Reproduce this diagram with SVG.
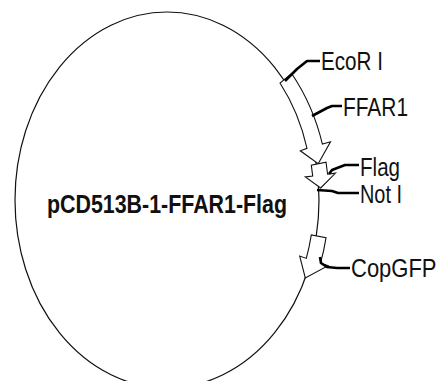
<svg xmlns="http://www.w3.org/2000/svg" width="438" height="381" viewBox="0 0 438 381">
<style>
.bb{fill:#ffffff;stroke:none}
.bk{fill:none;stroke:#111;stroke-width:1.2}
.ft{fill:#fff;stroke:#111;stroke-width:1.1;stroke-linejoin:miter}
.ln{fill:none;stroke:#000;stroke-width:2.6;stroke-linejoin:round;stroke-linecap:butt}
.lb{font-family:"Liberation Sans",Arial,sans-serif;font-size:25px;fill:#111}
.tt{font-family:"Liberation Sans",Arial,sans-serif;font-size:25px;font-weight:bold;fill:#111}
</style>
<rect class="bb" x="0" y="0" width="438" height="381"/>
<g id="backbone">
<ellipse class="bk" cx="167" cy="200" rx="152" ry="188"/>
</g>
<g id="FFAR1">
<path class="ft" d="M280,83 A147,183 0 0 1 307,148.3 L300.3,150.8 L318.2,163.7 L330.5,141.8 L322.4,144.1 A162,198 0 0 0 291.6,73.5 Z"/>
</g>
<g id="Flag">
<path class="ft" d="M311.3,165.1 L312.7,176.1 L305.3,177 L320.7,188 L335.5,173.1 L327.6,174.2 L326,162.2 Z"/>
</g>
<g id="CopGFP">
<path class="ft" d="M311.3,234.9 A147,183 0 0 1 306.3,258.4 L299.7,256.1 L305.3,278 L328.1,265.7 L320.5,263.2 A162,198 0 0 0 326,237.8 Z"/>
</g>
<g id="connectors">
<polyline class="ln" points="285,81 297,69 307,61 320,61"/>
<polyline class="ln" points="312,116 327,108 332,106 342,106"/>
<polyline class="ln" points="329,174 332,170 345,165 359,165"/>
<polyline class="ln" points="317,190 332,191 338,193 359,193"/>
<polyline class="ln" points="320,257 321,263 327,267 337,268 350,268"/>
</g>
<g id="labels">
<text class="lb" x="321" y="70" textLength="62" lengthAdjust="spacingAndGlyphs">EcoR I</text>
<text class="lb" x="343" y="116" textLength="65" lengthAdjust="spacingAndGlyphs">FFAR1</text>
<text class="lb" x="360" y="176" textLength="40" lengthAdjust="spacingAndGlyphs">Flag</text>
<text class="lb" x="360" y="203" textLength="42" lengthAdjust="spacingAndGlyphs">Not I</text>
<text class="lb" style="font-size:22px" transform="translate(351,277) scale(1,1.14)" x="0" y="0">CopGFP</text>
<text class="tt" x="47" y="213" textLength="240" lengthAdjust="spacingAndGlyphs">pCD513B-1-FFAR1-Flag</text>
</g>
</svg>
